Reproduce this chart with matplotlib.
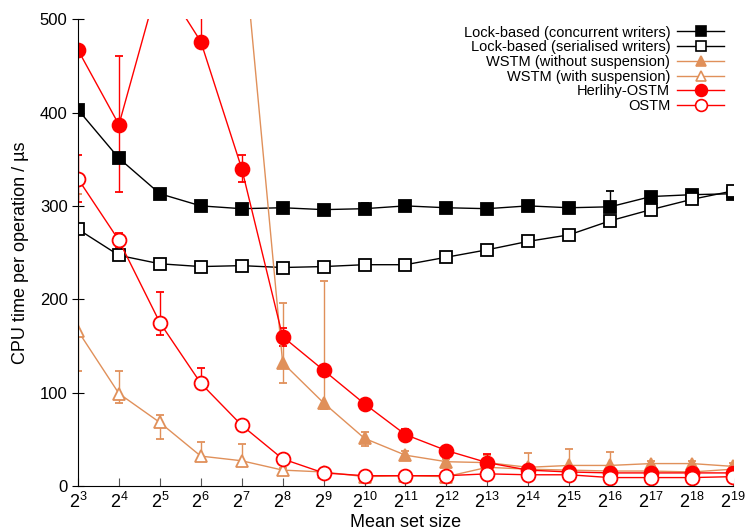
import matplotlib
matplotlib.use("Agg")
import matplotlib.pyplot as plt
from matplotlib.lines import Line2D
import numpy as np

plt.rcParams['font.family'] = ['Liberation Sans', 'DejaVu Sans']
plt.rcParams['mathtext.fontset'] = 'custom'
plt.rcParams['mathtext.rm'] = 'Liberation Sans'
plt.rcParams['mathtext.it'] = 'Liberation Sans'

exponents = list(range(3, 20))
set_sizes = [2 ** e for e in exponents]
tick_labels = [f"$\\mathregular{{2^{{{e}}}}}$" for e in exponents]

lock_conc = [403, 351, 313, 300, 297, 298, 296, 297, 300, 298, 297, 300, 298, 299, 310, 312, 313]
lock_conc_lo = [3, 3, 2, 2, 2, 2, 2, 2, 2, 2, 2, 2, 2, 2, 2, 2, 2]
lock_conc_hi = [3, 3, 2, 2, 2, 2, 2, 6, 2, 2, 2, 4, 2, 17, 3, 3, 3]

lock_ser = [275, 247, 238, 235, 236, 234, 235, 237, 237, 245, 253, 262, 269, 284, 296, 307, 316]
lock_ser_err = [3, 3, 2, 2, 2, 2, 2, 3, 2, 2, 2, 3, 2, 4, 4, 3, 3]

wstm_nosusp = [1500, 1300, 1100, 900, 603, 132, 89, 51, 33, 26, 25, 20, 22, 22, 24, 24, 21]
wstm_nosusp_lo = [0, 0, 0, 0, 0, 22, 7, 8, 3, 3, 3, 5, 5, 5, 3, 3, 3]
wstm_nosusp_hi = [0, 0, 0, 0, 0, 64, 131, 7, 4, 3, 8, 15, 18, 14, 3, 3, 4]

wstm_susp = [166, 99, 68, 32, 27, 17, 15, 10, 11, 10, 20, 18, 17, 16, 16, 15, 18]
wstm_susp_lo = [43, 10, 18, 4, 3, 2, 2, 3, 3, 3, 3, 3, 3, 3, 3, 3, 3]
wstm_susp_hi = [147, 24, 8, 15, 18, 2, 4, 3, 3, 3, 3, 3, 3, 3, 3, 3, 3]

herlihy = [467, 387, 545, 476, 340, 160, 124, 88, 55, 38, 25, 17, 15, 14, 14, 14, 14]
herlihy_lo = [5, 72, 0, 5, 14, 10, 3, 3, 3, 3, 3, 3, 3, 3, 3, 3, 3]
herlihy_hi = [5, 73, 0, 30, 14, 9, 3, 3, 6, 3, 9, 3, 3, 3, 3, 3, 3]

ostm = [329, 263, 175, 110, 65, 29, 14, 11, 11, 11, 13, 12, 12, 9, 9, 9, 10]
ostm_lo = [25, 8, 13, 5, 3, 4, 2, 2, 2, 2, 2, 2, 2, 2, 2, 2, 2]
ostm_hi = [25, 8, 33, 16, 3, 4, 2, 2, 2, 2, 2, 2, 2, 2, 2, 2, 2]

labels = ["Lock-based (concurrent writers)", "Lock-based (serialised writers)",
          "WSTM (without suspension)", "WSTM (with suspension)",
          "Herlihy-OSTM", "OSTM"]

orange = '#e0905a'
red = '#ff0000'

fig = plt.figure(figsize=(7.45, 5.32), dpi=100)
ax = fig.add_axes([0.1047, 0.0865, 0.879, 0.8775])

series = [
    (lock_conc, lock_conc_lo, lock_conc_hi, 'black', 's', 'black', 9),
    (lock_ser, lock_ser_err, lock_ser_err, 'black', 's', 'white', 9),
    (wstm_nosusp, wstm_nosusp_lo, wstm_nosusp_hi, orange, '^', orange, 9),
    (wstm_susp, wstm_susp_lo, wstm_susp_hi, orange, '^', 'white', 9),
    (herlihy, herlihy_lo, herlihy_hi, red, 'o', red, 10),
    (ostm, ostm_lo, ostm_hi, red, 'o', 'white', 10),
]

handles = []
for (vals, lo, hi, col, mk, fc, ms), lab in zip(series, labels):
    ax.errorbar(set_sizes, vals, yerr=[lo, hi], color=col, ecolor=col,
                elinewidth=1, capsize=3, capthick=1, lw=1.0,
                marker=mk, markersize=ms, markerfacecolor=fc,
                markeredgecolor=col, markeredgewidth=1.3)
    handles.append(Line2D([], [], color=col, lw=1.0, marker=mk,
                          markersize=ms * 0.85, markerfacecolor=fc,
                          markeredgecolor=col, markeredgewidth=1.2, label=lab))

ax.set_xscale('log', base=2)
ax.set_xlim(2 ** 3, 2 ** 19)
ax.set_ylim(0, 500)
ax.set_xticks(set_sizes)
ax.set_xticklabels(tick_labels, fontsize=13)
ax.minorticks_off()
ax.set_yticks([0, 100, 200, 300, 400, 500])
ax.tick_params(axis='y', direction='inout', length=8, labelsize=12)
ax.tick_params(axis='x', direction='in', length=6, color='#555555', labelsize=13, pad=4)

for s in ['top', 'right']:
    ax.spines[s].set_visible(False)

ax.set_xlabel("Mean set size", fontsize=13, labelpad=2)
ax.set_ylabel("CPU time per operation / µs", fontsize=13, labelpad=8)

leg = ax.legend(handles=handles, loc='upper right', bbox_to_anchor=(1.0, 1.005),
                frameon=False, markerfirst=False, fontsize=10.5,
                handlelength=3.2, handletextpad=0.5, labelspacing=0.05,
                borderaxespad=0.2)
for t in leg.get_texts():
    t.set_ha('right')

fig.savefig("out.png", dpi=100)
